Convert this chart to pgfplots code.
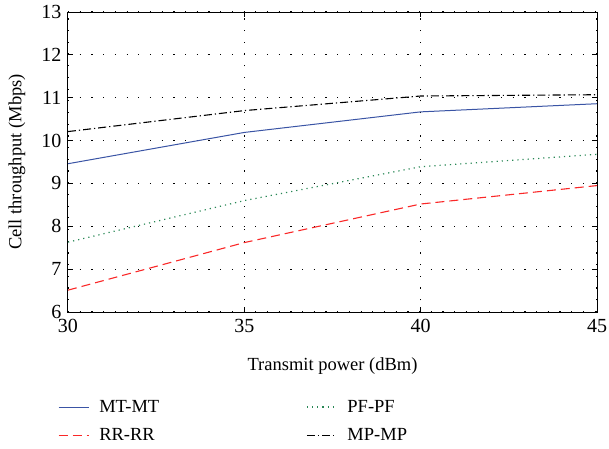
\documentclass[border=0pt]{standalone}
\usepackage{pgfplots}
\pgfplotsset{compat=1.18}
\usepackage{fontspec}
\setmainfont{Liberation Serif}

\definecolor{mtblue}{RGB}{58,84,165}
\definecolor{rrred}{RGB}{250,40,40}
\definecolor{pfgreen}{RGB}{40,135,85}

\newcommand{\chartfont}{\fontsize{18.5}{21}\selectfont}
\newcommand{\tickfont}{\fontsize{20}{22}\selectfont}

\begin{document}
\begin{tikzpicture}
\begin{axis}[
  scale only axis,
  width=529pt, height=300pt,
  xmin=30, xmax=45, ymin=6, ymax=13,
  xtick={30,35,40,45},
  ytick={6,7,8,9,10,11,12,13},
  /pgf/number format/assume math mode=true,
  tick label style={font=\tickfont},
  xlabel={Transmit power (dBm)},
  ylabel={Cell throughput (Mbps)},
  every axis x label/.style={at={(axis description cs:0.5,0)}, anchor=center, yshift=-54pt, font=\chartfont},
  every axis y label/.style={at={(axis description cs:-0.0964,0.5)}, rotate=90, anchor=center, font=\chartfont},
  yticklabel style={xshift=-3pt},
  xticklabel style={yshift=-4pt},
  axis line style={black, line width=1pt},
  tick style={black, line width=1pt},
  major tick length=5pt,
  tick align=inside,
  grid=major,
  major grid style={black, line width=1.1pt, dash pattern=on 1.2pt off 10.5pt},
  legend columns=2,
  legend cell align=left,
  legend style={
    at={(axis description cs:0,0)}, anchor=north west,
    xshift=-10pt, yshift=-86pt,
    draw=none, fill=none, inner sep=0pt,
    font=\chartfont,
    row sep=11pt,
    /tikz/every odd column/.append style={column sep=8pt},
    /tikz/every even column/.append style={column sep=145pt},
  },
  legend image code/.code={\draw (0pt,0pt) -- (30pt,0pt);},
]
\addplot[mtblue, line width=1pt] coordinates {(30,9.46) (35,10.19) (40,10.67) (45,10.86)};
\addlegendentry{MT-MT}
\addplot[pfgreen, line width=1.2pt, dash pattern=on 1.2pt off 4pt] coordinates {(30,7.63) (35,8.60) (40,9.39) (45,9.68)};
\addlegendentry{PF-PF}
\addplot[rrred, line width=1.1pt, dash pattern=on 9pt off 5pt] coordinates {(30,6.51) (35,7.62) (40,8.52) (45,8.95)};
\addlegendentry{RR-RR}
\addplot[black, line width=1.1pt, dash pattern=on 8pt off 3pt on 1.2pt off 3pt] coordinates {(30,10.21) (35,10.70) (40,11.04) (45,11.07)};
\addlegendentry{MP-MP}
\end{axis}
\pgfresetboundingbox
\path[use as bounding box] (-68pt,-136pt) rectangle (541pt,312pt);
\end{tikzpicture}
\end{document}
